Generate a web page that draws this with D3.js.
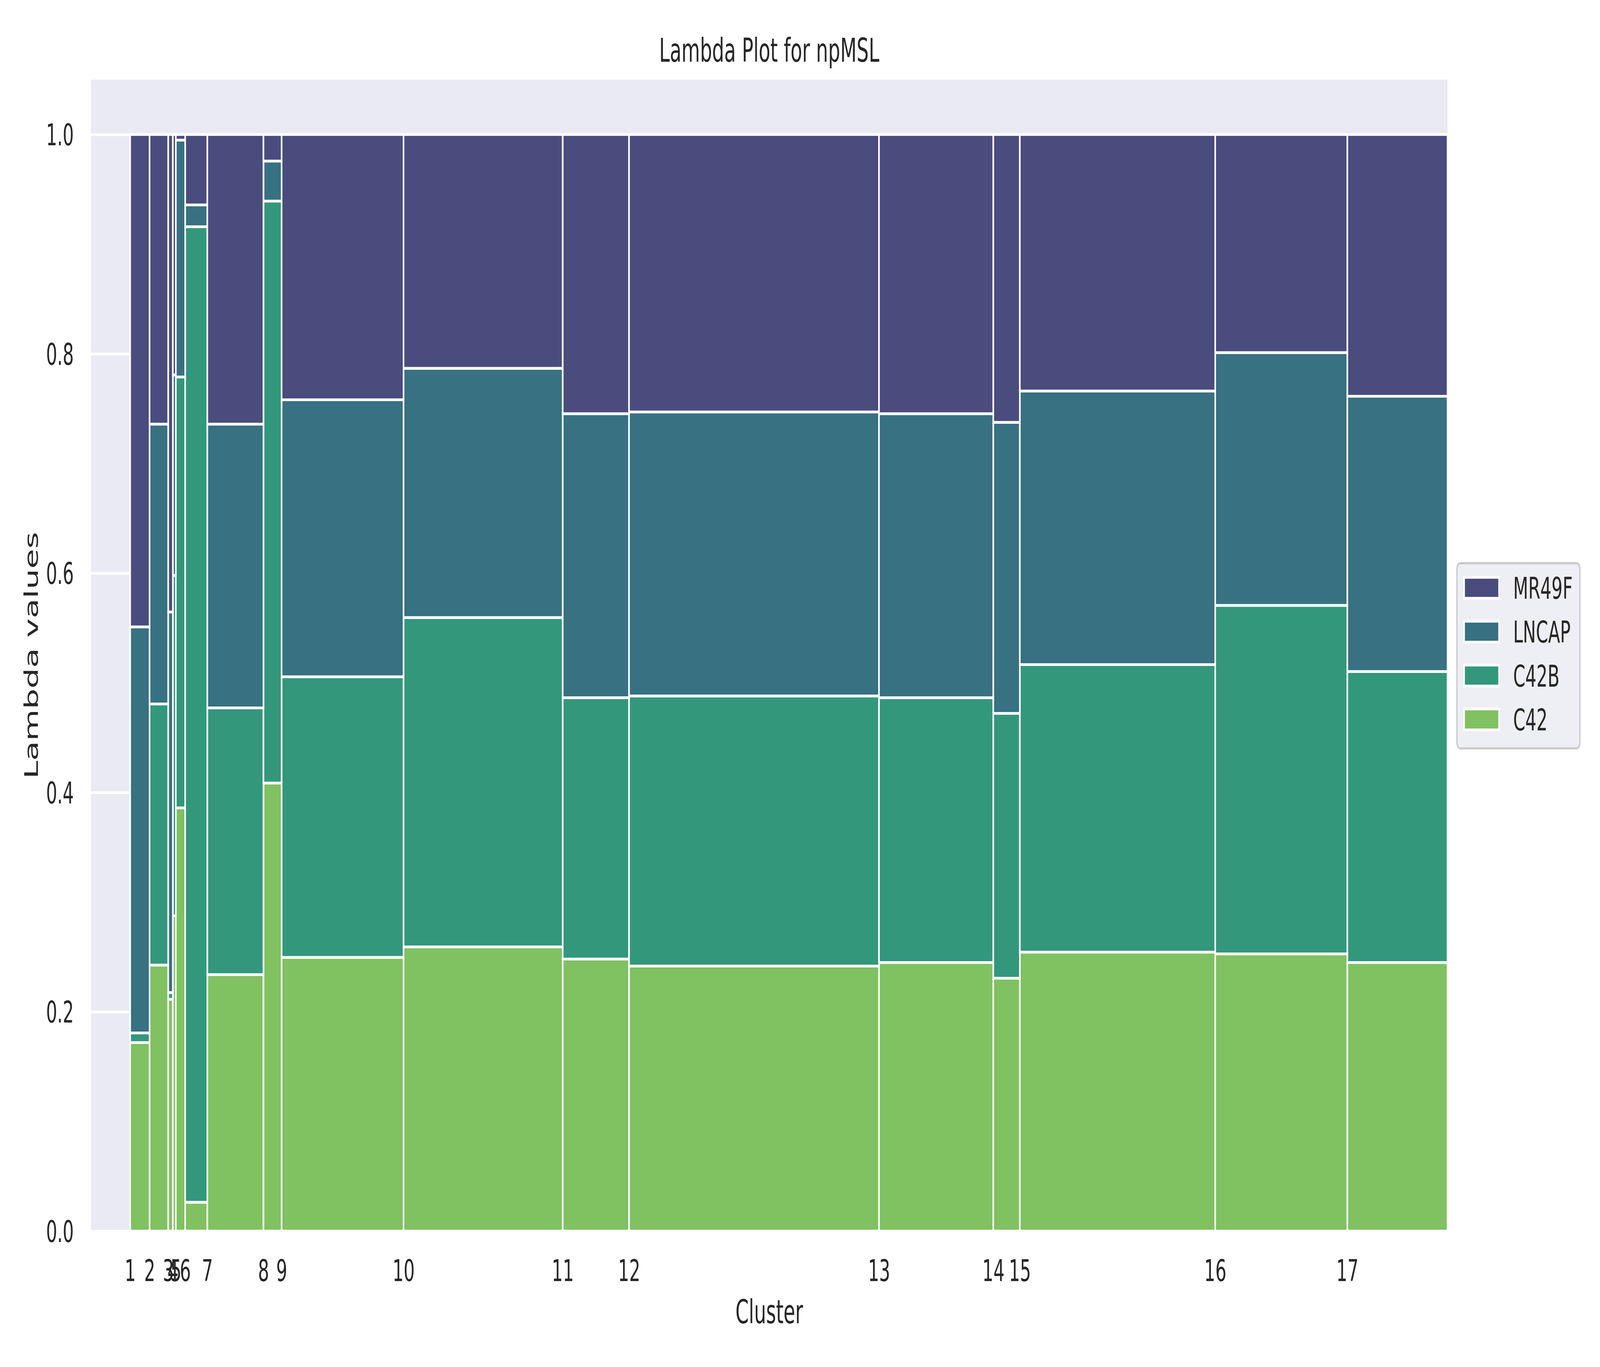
<!DOCTYPE html>
<html>
<head>
<meta charset="utf-8">
<script src="https://cdn.jsdelivr.net/npm/d3@7"></script>
<style>
  html, body { margin: 0; padding: 0; background: #fff; width: 100%; height: 100%; overflow: hidden; }
  #chart { width: 100vw; height: 100vh; }
  svg { display: block; font-family: "DejaVu Sans", sans-serif; }
</style>
</head>
<body>
<div id="chart"></div>
<script>
// clusters and their relative sizes (bar widths)
const clusters = ["1", "2", "3", "4", "5", "6", "7", "8", "9", "10", "11", "12", "13", "14", "15", "16", "17"];
const clusterSizes = [8.49, 8.17, 2.01, 1.30, 4.10, 9.69, 24.55, 7.95, 53.34, 69.64, 29.02, 109.36, 50.00, 11.61, 85.48, 57.81, 43.83];

// lambda values per cluster, stacked from the bottom
const c42   = [0.1719, 0.2426, 0.2114, 0.2876, 0.3859, 0.0263, 0.2339, 0.4086, 0.2496, 0.2592, 0.2481, 0.2417, 0.2449, 0.2306, 0.2544, 0.2528, 0.2449];
const c42b  = [0.0088, 0.2381, 0.0061, 0.3104, 0.3930, 0.8896, 0.2432, 0.5307, 0.2559, 0.3003, 0.2383, 0.2463, 0.2415, 0.2415, 0.2622, 0.3178, 0.2654];
const lncap = [0.3703, 0.2552, 0.3471, 0.1828, 0.2160, 0.0199, 0.2588, 0.0365, 0.2526, 0.2273, 0.2590, 0.2590, 0.2590, 0.2654, 0.2495, 0.2305, 0.2510];
const mr49f = [0.4490, 0.2641, 0.4354, 0.2192, 0.0051, 0.0642, 0.2641, 0.0242, 0.2419, 0.2132, 0.2546, 0.2530, 0.2546, 0.2625, 0.2339, 0.1989, 0.2387];

const seriesNames = ["C42", "C42B", "LNCAP", "MR49F"];
const yTicks = [0, 0.2, 0.4, 0.6, 0.8, 1.0];

// ---- layout (in 7000x3500 drawing units) ----
const W = 7000, H = 3500;
const margin = { left: 398, right: 6333, top: 204, bottom: 3152 };
const xMin = -17.15;          // axis starts a bit before the first bar
const tickFs = 76.4, labelFs = 83.3;
const textColor = "#262626";

// viridis colours, desaturated like seaborn does (0.75)
const baseColors = { C42: "#7ad151", C42B: "#22a884", LNCAP: "#2a788e", MR49F: "#414487" };
const color = k => { let c = d3.hsl(baseColors[k]); c.s *= 0.75; return c.formatHex(); };

const rows = clusters.map((c, i) => ({
    cluster: c, size: clusterSizes[i],
    C42: c42[i], C42B: c42b[i], LNCAP: lncap[i], MR49F: mr49f[i]
}));
const ends = Array.from(d3.cumsum(clusterSizes));
const starts = ends.map((e, i) => e - clusterSizes[i]);
rows.forEach((r, i) => { r.x0 = starts[i]; r.x1 = ends[i]; });

const stacked = d3.stack().keys(seriesNames)(rows);

// the svg fills the whole window, whatever its size
let svg = d3.select("#chart").append("svg")
    .attr("viewBox", `0 0 ${W} ${H}`)
    .attr("preserveAspectRatio", "none")
    .attr("width", "100%")
    .attr("height", "100%");

let x = d3.scaleLinear().domain([xMin, d3.sum(clusterSizes)]).range([margin.left, margin.right]);
let y = d3.scaleLinear().domain([0, 1.05]).range([margin.bottom, margin.top]);
const plotW = margin.right - margin.left, plotH = margin.bottom - margin.top;

svg.append("defs").append("clipPath").attr("id", "plotclip")
    .append("rect").attr("x", margin.left).attr("y", margin.top).attr("width", plotW).attr("height", plotH);

// background of the axes
svg.append("rect")
    .attr("x", margin.left).attr("y", margin.top)
    .attr("width", plotW).attr("height", plotH)
    .attr("fill", "#EAEAF2");

// horizontal grid
svg.append("g")
    .attr("transform", `translate(${margin.left},0)`)
    .call(d3.axisLeft(y).tickValues(yTicks).tickSize(-plotW).tickFormat(""))
    .call(g => g.select(".domain").remove())
    .selectAll("line")
    .attr("stroke", "#fff")
    .attr("stroke-width", 6.94);

// bars
let plot = svg.append("g").attr("clip-path", "url(#plotclip)");
plot.selectAll("g.layer")
    .data(stacked)
    .enter().append("g")
    .attr("class", "layer")
    .attr("fill", d => color(d.key))
    .selectAll("rect")
    .data(d => d)
    .enter().append("rect")
    .attr("x", d => x(d.data.x0))
    .attr("width", d => x(d.data.x1) - x(d.data.x0))
    .attr("y", d => y(d[1]))
    .attr("height", d => y(d[0]) - y(d[1]))
    .attr("stroke", "#fff")
    .attr("stroke-width", 6.94);

// y axis
svg.append("g")
    .attr("transform", `translate(${margin.left},0)`)
    .call(d3.axisLeft(y).tickValues(yTicks).tickSize(0).tickPadding(75).tickFormat(d3.format(".1f")))
    .call(g => g.select(".domain").remove())
    .selectAll("text")
    .attr("dy", "0.36em")
    .style("font-size", tickFs + "px")
    .style("font-family", "DejaVu Sans")
    .attr("fill", textColor);

// x axis: ticks at the left edge of each cluster
svg.append("g")
    .attr("transform", `translate(0,${margin.bottom})`)
    .call(d3.axisBottom(x).tickValues(starts).tickSize(0).tickPadding(74).tickFormat((d, i) => clusters[i]))
    .call(g => g.select(".domain").remove())
    .selectAll("text")
    .style("font-size", tickFs + "px")
    .style("font-family", "DejaVu Sans")
    .attr("fill", textColor);

// title and axis labels
svg.append("text")
    .attr("x", (margin.left + margin.right) / 2)
    .attr("y", 158)
    .attr("text-anchor", "middle")
    .style("font-size", labelFs + "px")
    .attr("fill", textColor)
    .text("Lambda Plot for npMSL");

svg.append("text")
    .attr("x", (margin.left + margin.right) / 2)
    .attr("y", 3388)
    .attr("text-anchor", "middle")
    .style("font-size", labelFs + "px")
    .attr("fill", textColor)
    .text("Cluster");

svg.append("text")
    .attr("transform", `translate(165,${(margin.top + margin.bottom) / 2}) rotate(-90)`)
    .attr("text-anchor", "middle")
    .style("font-size", labelFs + "px")
    .attr("fill", textColor)
    .text("Lambda values");

// legend (top entry = top of the stack)
let legend = svg.append("g");
legend.append("rect")
    .attr("x", 6374).attr("y", 1442)
    .attr("width", 538).attr("height", 474)
    .attr("rx", 15)
    .attr("fill", "#EAEAF2").attr("fill-opacity", 0.8)
    .attr("stroke", "#cccccc").attr("stroke-width", 6);

let legendOrder = seriesNames.slice().reverse();
let ly = d3.scalePoint().domain(legendOrder).range([1505, 1842]);

let items = legend.selectAll("g.item")
    .data(legendOrder)
    .enter().append("g")
    .attr("class", "item")
    .attr("transform", d => `translate(0,${ly(d)})`);

items.append("rect")
    .attr("x", 6405.5).attr("y", -26.75)
    .attr("width", 153).attr("height", 53.5)
    .attr("fill", d => color(d))
    .attr("stroke", "#fff").attr("stroke-width", 6.94);

items.append("text")
    .attr("x", 6620)
    .attr("y", 0.365 * tickFs)
    .style("font-size", tickFs + "px")
    .attr("fill", textColor)
    .text(d => d);
</script>
</body>
</html>
